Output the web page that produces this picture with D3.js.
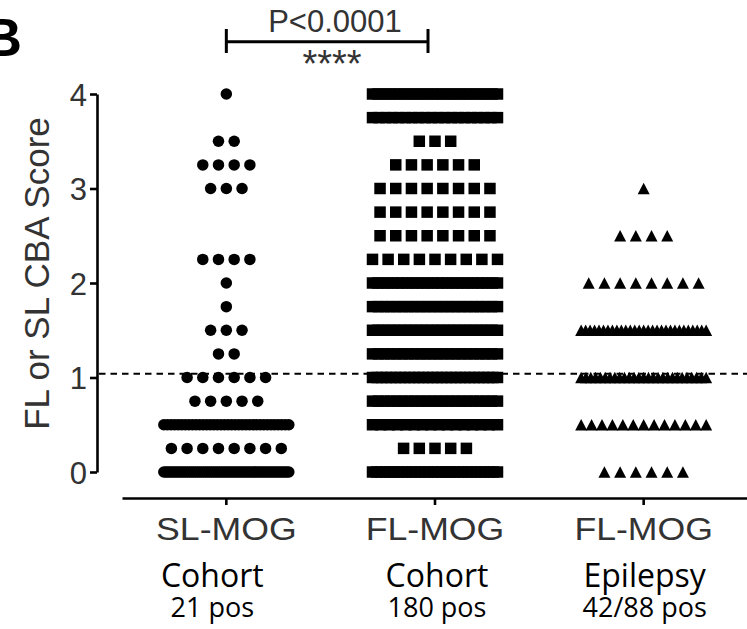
<!DOCTYPE html>
<html>
<head>
<meta charset="utf-8">
<script src="https://cdn.jsdelivr.net/npm/d3@7/dist/d3.min.js"></script>
<style>
  html, body { margin: 0; padding: 0; background: #fff; }
  svg { display: block; }
</style>
</head>
<body>
<svg id="chart" width="747" height="629"></svg>
<script>
// ---- data ----
const groupKeys = ["sl", "fl", "epi"];
const groupLabels = ["SL-MOG", "FL-MOG", "FL-MOG"];
const groupSubLabels = ["Cohort", "Cohort", "Epilepsy"];
const groupPosLabels = ["21 pos", "180 pos", "42/88 pos"];

// CBA score levels (top to bottom) and number of samples at each level
const scoreLevels = [4, 3.75, 3.5, 3.25, 3, 2.75, 2.5, 2.25, 2, 1.75, 1.5, 1.25, 1, 0.75, 0.5, 0.25, 0];
const slMogCounts = [1, 0, 2, 4, 3, 0, 0, 4, 1, 1, 3, 2, 6, 5, 36, 8, 64];
const flMogCounts = [24, 20, 3, 6, 8, 8, 8, 9, 26, 22, 24, 22, 28, 22, 16, 5, 30];
const epilepsyCounts = [0, 0, 0, 0, 1, 0, 4, 0, 8, 0, 29, 0, 27, 0, 13, 0, 6];

const yTicks = [0, 1, 2, 3, 4];
const cutoff = 1.04;
const pValueText = "P<0.0001";
const starsText = "****";
const yAxisTitle = "FL or SL CBA Score";
const panelLetter = "B";

// ---- layout ----
const svg = d3.select("#chart");
const y = d3.scaleLinear().domain([0, 4]).range([472, 94]);
const x = d3.scaleBand().domain(groupKeys).range([122, 748]).padding(0);
const cx = k => x(k) + x.bandwidth() / 2;

const ink = "#000";
const textGrey = "#333";
const arial = "'Liberation Sans', Arial, sans-serif";
const calibriLike = "'Open Sans', 'Noto Sans', sans-serif";

// panel letter
svg.append("text")
  .attr("x", -17).attr("y", 56)
  .attr("font-family", arial).attr("font-weight", "bold")
  .attr("font-size", 54).attr("fill", ink)
  .text(panelLetter);

// y axis
const yAxis = svg.append("g")
  .attr("transform", "translate(97,0)")
  .call(d3.axisLeft(y).tickValues(yTicks).tickFormat(d3.format("d"))
    .tickSize(7).tickSizeOuter(0).tickPadding(3));
yAxis.select(".domain").attr("stroke", ink).attr("stroke-width", 2.6);
yAxis.selectAll(".tick line").attr("stroke", ink).attr("stroke-width", 2.6);
yAxis.selectAll(".tick text")
  .attr("font-family", arial).attr("font-size", 31).attr("fill", textGrey)
  .attr("dy", "0.36em");

// y axis title
svg.append("text")
  .attr("transform", "translate(49,273.5) rotate(-90)")
  .attr("text-anchor", "middle")
  .attr("font-family", arial).attr("font-size", 35).attr("fill", textGrey)
  .text(yAxisTitle);

// x axis
const xAxis = svg.append("g")
  .attr("transform", "translate(0,498)")
  .call(d3.axisBottom(x).tickSize(7).tickSizeOuter(0).tickFormat(""));
xAxis.select(".domain").attr("stroke", ink).attr("stroke-width", 2.6);
xAxis.selectAll(".tick line").attr("stroke", ink).attr("stroke-width", 2.6);

// category labels (slightly stretched Arial)
groupKeys.forEach((k, i) => {
  svg.append("text")
    .attr("transform", `translate(${cx(k)},540) scale(1.15,1)`)
    .attr("text-anchor", "middle")
    .attr("font-family", arial).attr("font-size", 31).attr("fill", textGrey)
    .text(groupLabels[i]);
});
const subOffsets = [-14, 2, 1];
groupKeys.forEach((k, i) => {
  svg.append("text")
    .attr("x", cx(k) + subOffsets[i]).attr("y", 587)
    .attr("text-anchor", "middle")
    .attr("font-family", calibriLike).attr("font-size", 32).attr("fill", ink)
    .text(groupSubLabels[i]);
  svg.append("text")
    .attr("x", cx(k) + subOffsets[i]).attr("y", 617)
    .attr("text-anchor", "middle")
    .attr("font-family", calibriLike).attr("font-size", 27).attr("fill", ink)
    .text(groupPosLabels[i]);
});

// ---- scatter columns ----
const triangleUp = {
  draw(ctx, size) {
    const w = Math.sqrt(size);
    const h = w * 0.95;
    ctx.moveTo(0, -h / 2);
    ctx.lineTo(w / 2, h / 2);
    ctx.lineTo(-w / 2, h / 2);
    ctx.closePath();
  }
};
const columns = [
  { key: "sl", counts: slMogCounts, symbol: d3.symbolCircle, size: Math.PI * 5.75 * 5.75 },
  { key: "fl", counts: flMogCounts, symbol: d3.symbolSquare, size: 11.5 * 11.5 },
  { key: "epi", counts: epilepsyCounts, symbol: triangleUp, size: 12 * 12 }
];
const baseGap = 15.7;   // spacing between neighbouring points in a row
const maxSpan = 125;    // widest spread of point centres in a row

const points = [];
columns.forEach(col => {
  scoreLevels.forEach((v, li) => {
    const n = col.counts[li];
    if (!n) return;
    const gap = n > 1 ? Math.min(baseGap, maxSpan / (n - 1)) : 0;
    for (let i = 0; i < n; i++) {
      points.push({
        x: cx(col.key) + (i - (n - 1) / 2) * gap,
        y: y(v),
        symbol: col.symbol,
        size: col.size
      });
    }
  });
});

svg.append("g").selectAll("path")
  .data(points)
  .join("path")
  .attr("transform", d => `translate(${d.x},${d.y})`)
  .attr("d", d => d3.symbol(d.symbol, d.size)())
  .attr("fill", ink);

// positivity cut-off
svg.append("line")
  .attr("x1", 99).attr("x2", 747)
  .attr("y1", y(cutoff)).attr("y2", y(cutoff))
  .attr("stroke", ink).attr("stroke-width", 2)
  .attr("stroke-dasharray", "6.5,5");

// significance bracket
const bx1 = cx("sl"), bx2 = cx("fl") - 7, by = 41.7;
const bracket = svg.append("g").attr("stroke", ink).attr("stroke-width", 3).attr("fill", "none");
bracket.append("line").attr("x1", bx1).attr("x2", bx2).attr("y1", by).attr("y2", by);
bracket.append("line").attr("x1", bx1).attr("x2", bx1).attr("y1", 29).attr("y2", 53);
bracket.append("line").attr("x1", bx2).attr("x2", bx2).attr("y1", 29).attr("y2", 53);

svg.append("text")
  .attr("x", 335).attr("y", 32)
  .attr("text-anchor", "middle")
  .attr("font-family", arial).attr("font-size", 31).attr("fill", textGrey)
  .text(pValueText);
svg.append("text")
  .attr("x", 332).attr("y", 77)
  .attr("text-anchor", "middle")
  .attr("font-family", arial).attr("font-size", 38).attr("fill", textGrey)
  .text(starsText);
</script>
</body>
</html>
